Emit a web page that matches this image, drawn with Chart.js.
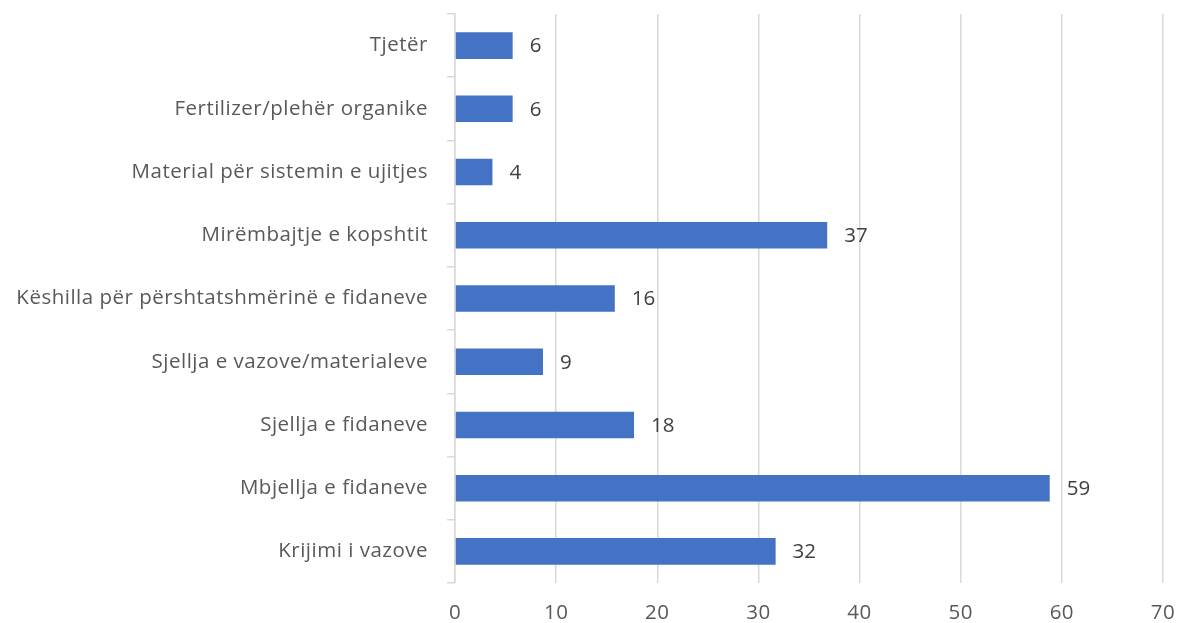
<!DOCTYPE html>
<html><head><meta charset="utf-8">
<script src="https://cdn.jsdelivr.net/npm/chart.js@4/dist/chart.umd.min.js"></script>
<style>html,body{margin:0;padding:0;background:#fff;}#wrap{width:1179px;height:623px;}</style>
</head><body><div id="wrap"><canvas id="c" width="1179" height="623"></canvas></div>
<script>
const categories = ["Tjetër","Fertilizer/plehër organike","Material për sistemin e ujitjes","Mirëmbajtje e kopshtit","Këshilla për përshtatshmërinë e fidaneve","Sjellja e vazove/materialeve","Sjellja e fidaneve","Mbjellja e fidaneve","Krijimi i vazove"];
const values = [5.7, 5.7, 3.7, 36.8, 15.8, 8.7, 17.7, 58.8, 31.7];
const valueLabels = ["6","6","4","37","16","9","18","59","32"];
const xTicks = [0,10,20,30,40,50,60,70];

const FONT = "'Open Sans', sans-serif";
const spacingPlugin = {
  id: 'spacing',
  beforeLayout(chart) { chart.ctx.letterSpacing = '0.5px'; },
  beforeDraw(chart) { chart.ctx.letterSpacing = '0.5px'; }
};
const labelPlugin = {
  id: 'barLabels',
  afterDatasetsDraw(chart) {
    const ctx = chart.ctx;
    const meta = chart.getDatasetMeta(0);
    ctx.save();
    ctx.letterSpacing = '0px';
    ctx.font = "20.5px " + FONT;
    ctx.fillStyle = "#404040";
    ctx.textAlign = "left";
    ctx.textBaseline = "middle";
    meta.data.forEach((bar, i) => {
      ctx.fillText(valueLabels[i], bar.x + 17, bar.y + 1);
    });
    ctx.restore();
  }
};

new Chart(document.getElementById('c'), {
  type: 'bar',
  data: {
    labels: categories,
    datasets: [{
      data: values,
      backgroundColor: '#4472C4',
      borderWidth: 0,
      barPercentage: 0.42,
      categoryPercentage: 1.0
    }]
  },
  options: {
    indexAxis: 'y',
    responsive: false,
    animation: false,
    layout: { padding: { top: 14, right: 16, left: 0, bottom: 0 } },
    plugins: { legend: { display: false }, tooltip: { enabled: false } },
    scales: {
      x: {
        min: 0, max: 70,
        afterBuildTicks(s) { s.ticks = xTicks.map(v => ({ value: v })); },
        afterFit(s) { s.height = 40; s.paddingLeft = 0; s.paddingRight = 0; },
        grid: { color: '#d9d9d9', lineWidth: 1.5, drawTicks: false },
        border: { display: false },
        ticks: { color: '#595959', font: { family: FONT, size: 20.5 }, padding: 18 }
      },
      y: {
        afterFit(s) { s.width = 455; s.paddingTop = 0; s.paddingBottom = 0; },
        grid: { offset: true, drawOnChartArea: false, drawTicks: true, tickLength: 8, color: '#d9d9d9', lineWidth: 1.5 },
        border: { display: true, color: '#d9d9d9', width: 1.5 },
        ticks: { color: '#595959', font: { family: FONT, size: 20.5 }, padding: 19 }
      }
    }
  },
  plugins: [spacingPlugin, labelPlugin]
});
</script></body></html>
